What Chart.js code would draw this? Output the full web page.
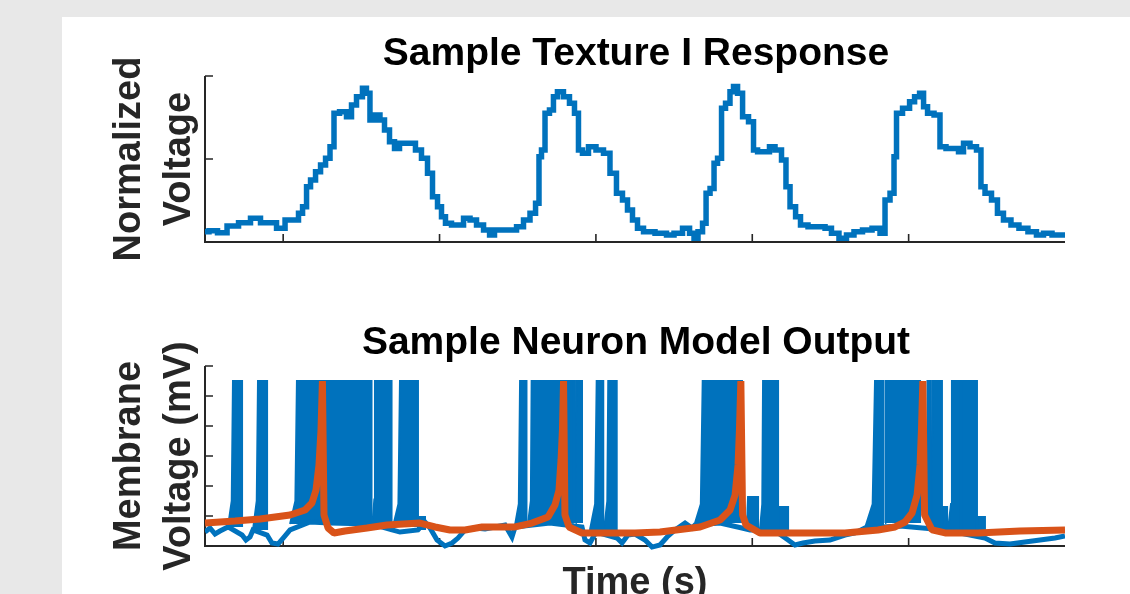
<!DOCTYPE html>
<html>
<head>
<meta charset="utf-8">
<script src="https://cdn.jsdelivr.net/npm/chart.js@4.4.0/dist/chart.umd.min.js"></script>
<style>
  html, body { margin:0; padding:0; }
  body { width:1130px; height:594px; background:#e8e8e8; position:relative; overflow:hidden;
         font-family:"Liberation Sans", Arial, Helvetica, sans-serif; }
  #panel { position:absolute; left:62px; top:17px; right:0; bottom:0; background:#ffffff; }
  canvas { position:absolute; left:0; top:0; }
  .title { position:absolute; left:205px; width:862px; text-align:center; font-weight:bold;
           font-size:39px; line-height:39px; color:#000; white-space:nowrap; }
  .ylab { position:absolute; width:300px; height:100px; text-align:center; font-weight:bold;
          font-size:38px; line-height:50px; color:#262626; white-space:nowrap; transform:rotate(-90deg); }
  .xlab { position:absolute; left:205px; width:860px; text-align:center; font-weight:bold;
          font-size:38px; line-height:38px; color:#262626; white-space:nowrap; }
</style>
</head>
<body>
<div id="panel"></div>
<canvas id="c1" width="1130" height="594"></canvas>
<canvas id="c2" width="1130" height="594"></canvas>
<div class="title" style="top:32px;">Sample Texture I Response</div>
<div class="ylab" style="left:2px; top:109px;">Normalized<br>Voltage</div>
<div class="title" style="top:321px;">Sample Neuron Model Output</div>
<div class="ylab" style="left:2px; top:406px;">Membrane<br>Voltage (mV)</div>
<div class="xlab" style="top:562px;">Time (s)</div>
<script>
// ---------- Top panel: normalized texture response ----------
const textureT = [0.500,0.551,0.609,0.673,0.756,0.826,0.884,0.935,0.980,1.044,
  1.088,1.108,1.140,1.159,1.191,1.223,1.255,1.287,1.312,1.338,
  1.383,1.427,1.447,1.491,1.523,1.542,1.568,1.606,1.632,1.664,
  1.696,1.728,1.760,1.830,1.862,1.907,1.939,1.971,2.003,2.022,
  2.054,2.099,2.131,2.176,2.214,2.259,2.304,2.336,2.367,2.419,
  2.470,2.515,2.559,2.598,2.630,2.642,2.662,2.687,2.719,2.738,
  2.770,2.815,2.847,2.879,2.898,2.930,2.975,3.026,3.071,3.109,
  3.154,3.186,3.218,3.250,3.282,3.327,3.429,3.474,3.525,3.583,
  3.615,3.640,3.666,3.698,3.711,3.749,3.762,3.794,3.813,3.845,
  3.870,3.890,3.922,3.954,3.998,4.018,4.050,4.094,4.126,4.165,
  4.209,4.222,4.261,4.293,4.324,4.389,4.447,4.484,4.529,4.580,
  4.625,4.676,4.734,4.798,4.836,4.862,4.900,4.913,4.932,4.990,
  5.022,5.054,5.086,5.105,5.137,5.188,5.213,5.265,5.309,5.329,
  5.373,5.412,5.456,5.469,5.508,5.552,5.584,5.629,5.680,5.731,
  5.795,5.840,5.885,5.949,6.000];
const textureV = [0.062,0.068,0.056,0.096,0.116,0.143,0.116,0.116,0.083,0.133,
  0.133,0.173,0.213,0.333,0.373,0.423,0.464,0.504,0.574,0.775,
  0.785,0.755,0.825,0.875,0.926,0.896,0.735,0.765,0.735,0.675,
  0.604,0.564,0.595,0.595,0.554,0.504,0.414,0.273,0.213,0.152,
  0.113,0.102,0.102,0.143,0.133,0.102,0.072,0.042,0.072,0.072,
  0.072,0.092,0.133,0.173,0.233,0.514,0.554,0.775,0.795,0.875,
  0.905,0.875,0.836,0.775,0.554,0.534,0.574,0.554,0.534,0.414,
  0.293,0.253,0.193,0.133,0.083,0.062,0.052,0.042,0.052,0.083,
  0.052,0.022,0.062,0.113,0.293,0.323,0.474,0.504,0.805,0.836,
  0.905,0.936,0.896,0.755,0.725,0.554,0.544,0.544,0.574,0.554,
  0.494,0.333,0.213,0.152,0.102,0.092,0.092,0.083,0.052,0.022,
  0.042,0.062,0.072,0.083,0.052,0.253,0.293,0.514,0.775,0.805,
  0.845,0.875,0.896,0.815,0.775,0.765,0.574,0.564,0.564,0.544,
  0.595,0.574,0.554,0.333,0.293,0.253,0.173,0.133,0.102,0.083,
  0.062,0.042,0.052,0.042,0.042];
const topXTicks = [1,2,3,4,5];
const topYTicks = [0,0.5,1];

// ---------- Bottom panel: neuron model membrane voltage (mV) ----------
// noisy sub-threshold trace of the blue neuron
const memT = [0.500,0.532,0.564,0.596,0.647,0.737,0.762,0.788,0.807,0.897,
  0.928,0.967,1.012,1.044,1.172,1.299,1.562,1.696,1.747,1.862,
  1.907,1.939,1.984,2.035,2.080,2.118,2.163,2.227,2.291,2.355,
  2.419,2.463,2.483,2.706,2.911,2.930,2.962,3.001,3.135,3.167,
  3.205,3.250,3.314,3.359,3.410,3.455,3.506,3.570,3.615,3.634,
  3.794,3.934,3.986,4.049,4.165,4.229,4.273,4.324,4.401,4.497,
  4.593,4.657,4.721,4.945,5.233,5.488,5.552,5.648,5.744,5.840,
  5.936,6.000];
const memV = [-70.7,-68,-72,-70,-67.3,-72.7,-76,-74,-69.3,-72.7,
  -78,-78.7,-73.3,-69.3,-64,-64.7,-65.3,-69.3,-70.7,-69.3,
  -64,-68,-76,-80,-78,-74.7,-69.3,-68,-68.7,-67.3,
  -66,-74,-67.3,-64.7,-67.3,-76,-78,-70.7,-74.7,-78,
  -72.7,-72,-76,-80.7,-79.3,-74,-69.3,-64.7,-68,-66,
  -64.7,-68,-69.3,-69.3,-71.3,-76,-79.3,-78,-76.7,-76,
  -72.7,-71.3,-68,-66.7,-69.3,-74.7,-78,-78.7,-77.3,-76,
  -74.7,-73.3];
// spike bursts of the blue neuron: start, knee of the rise, time reaching peak, end, peak mV, floor mV
const burstStart = [0.647,0.807,1.044,1.571,1.702,1.862,2.483,2.566,2.849,2.870,
  2.962,3.052,3.634,3.966,4.049,4.165,4.721,4.849,5.118,5.146,5.213,5.252,5.335,5.437];
const burstKneeT = [0.671,0.831,1.078,1.583,1.737,1.863,2.507,2.584,2.850,2.872,
  2.995,3.073,3.671,3.970,4.064,4.166,4.770,4.851,5.120,5.149,5.214,5.271,5.337,5.438];
const burstKneeV = [-50,-50,-50,-49,-52,-62,-52,-50,-40,-40,
  -52,-50,-52,-55,-52,-60,-52,-40,-40,-40,-60,-52,-40,-65];
const burstRise  = [0.679,0.839,1.088,1.587,1.747,1.865,2.515,2.589,2.851,2.873,
  3.005,3.079,3.683,3.973,4.069,4.168,4.785,4.852,5.121,5.150,5.216,5.277,5.338,5.440];
const burstEnd   = [0.737,0.897,1.565,1.693,1.862,1.907,2.556,2.841,2.863,2.911,
  3.047,3.133,3.934,4.037,4.165,4.229,4.836,5.073,5.137,5.213,5.246,5.329,5.437,5.488];
const burstPeak  = [30,30,30,30,30,-60.7,30,30,30,30,
  30,30,30,-47.3,30,-54,30,30,30,30,-54,30,30,-60.7];
const burstFloor = [-67.3,-69.3,-65.3,-65.3,-67.3,-69.3,-66,-64.7,-64.7,-64.7,
  -69.3,-69.3,-64.7,-69.3,-69.3,-71.3,-68,-64.7,-68,-68,-71.3,-69.3,-69.3,-72.7];
// orange neuron trace
const orT = [0.500,0.692,0.852,1.044,1.140,1.184,1.210,1.229,1.242,1.251,
  1.261,1.287,1.325,1.395,1.536,1.664,1.875,1.971,2.067,2.163,
  2.272,2.483,2.591,2.694,2.738,2.764,2.777,2.786,2.793,2.802,
  2.828,2.911,3.026,3.250,3.410,3.666,3.794,3.858,3.890,3.909,
  3.918,3.927,3.938,3.960,4.049,4.305,4.593,4.804,4.913,4.977,
  5.022,5.054,5.073,5.082,5.091,5.102,5.150,5.233,5.444,5.712,
  6.000];
const orV = [-64.7,-63.3,-62,-59.3,-56,-51.3,-42.7,-26,-2.7,30,
  -59.3,-68,-71.3,-70,-68,-66,-64.7,-67.3,-69.3,-69.3,
  -67.3,-67.3,-64.7,-60.7,-52.7,-42.7,-22.7,-2.7,30,-59.3,
  -67.3,-71.3,-71.3,-71.3,-70.7,-67.3,-62.7,-56,-46,-26,
  -2.7,30,-59.3,-66,-71.3,-71.3,-71.3,-69.3,-67.3,-64,
  -58,-46,-26,-2.7,30,-59.3,-69.3,-71.3,-71.3,-70,
  -69.3];
const botXTicks = [1,2,3,4,5];
const botYTicks = [-80,-60,-40,-20,0,20,40];

const BLUE = '#0072BD';
const ORANGE = '#D95319';
const AXIS = '#262626';

// MATLAB-like axes: left & bottom lines with inward ticks
const matlabAxes = {
  id: 'matlabAxes',
  beforeDatasetsDraw(chart, args, opts) {
    const { ctx, chartArea: a, scales } = chart;
    const x = scales.x, y = scales.y;
    ctx.save();
    ctx.strokeStyle = AXIS;
    ctx.lineWidth = 2;
    ctx.beginPath();
    ctx.moveTo(a.left, a.top);
    ctx.lineTo(a.left, a.bottom);
    ctx.lineTo(a.right, a.bottom);
    ctx.stroke();
    ctx.lineWidth = 1.6;
    ctx.beginPath();
    (opts.xTicks || []).forEach(v => {
      const px = x.getPixelForValue(v);
      ctx.moveTo(px, a.bottom);
      ctx.lineTo(px, a.bottom - 8);
    });
    (opts.yTicks || []).forEach(v => {
      const py = y.getPixelForValue(v);
      ctx.moveTo(a.left, py);
      ctx.lineTo(a.left + 8, py);
    });
    ctx.stroke();
    ctx.restore();
  }
};

function pts(t, v) { return t.map((ti, i) => ({ x: ti, y: v[i] })); }

const commonOpts = (padTop, padBottom, xmin, xmax, ymin, ymax, xt, yt) => ({
  responsive: false,
  animation: false,
  events: [],
  devicePixelRatio: 1,
  layout: { padding: { left: 205, right: 65, top: padTop, bottom: padBottom } },
  plugins: { legend: { display: false }, tooltip: { enabled: false }, title: { display: false },
             matlabAxes: { xTicks: xt, yTicks: yt } },
  scales: {
    x: { type: 'linear', display: false, min: xmin, max: xmax },
    y: { type: 'linear', display: false, min: ymin, max: ymax }
  }
});

new Chart(document.getElementById('c1'), {
  type: 'line',
  data: {
    datasets: [{
      data: pts(textureT, textureV),
      borderColor: BLUE,
      borderWidth: 5.5,
      pointRadius: 0,
      stepped: 'middle',
      fill: false
    }]
  },
  options: commonOpts(76, 594 - 242, 0.5, 6.0, 0, 1, topXTicks, topYTicks),
  plugins: [matlabAxes]
});

const burstSets = burstStart.map((s, i) => ({
  data: [
    { x: s, y: burstFloor[i] },
    { x: burstKneeT[i], y: Math.min(burstKneeV[i], burstPeak[i]) },
    { x: burstRise[i], y: burstPeak[i] },
    { x: burstEnd[i], y: burstPeak[i] },
    { x: burstEnd[i], y: burstFloor[i] }
  ],
  borderColor: BLUE,
  backgroundColor: BLUE,
  borderWidth: 2,
  pointRadius: 0,
  fill: { value: burstFloor[i] },
  order: 2
}));

new Chart(document.getElementById('c2'), {
  type: 'line',
  data: {
    datasets: [
      {
        data: pts(orT, orV),
        borderColor: ORANGE,
        borderWidth: 7,
        borderJoinStyle: 'bevel',
        pointRadius: 0,
        fill: false,
        order: 0
      },
      {
        data: pts(memT, memV),
        borderColor: BLUE,
        borderWidth: 5,
        pointRadius: 0,
        fill: false,
        clip: { left: 0, top: 0, right: 0, bottom: 4 },
        order: 1
      },
      ...burstSets
    ]
  },
  options: commonOpts(366, 594 - 546, 0.5, 6.0, -80, 40, botXTicks, botYTicks),
  plugins: [matlabAxes]
});
</script>
</body>
</html>
